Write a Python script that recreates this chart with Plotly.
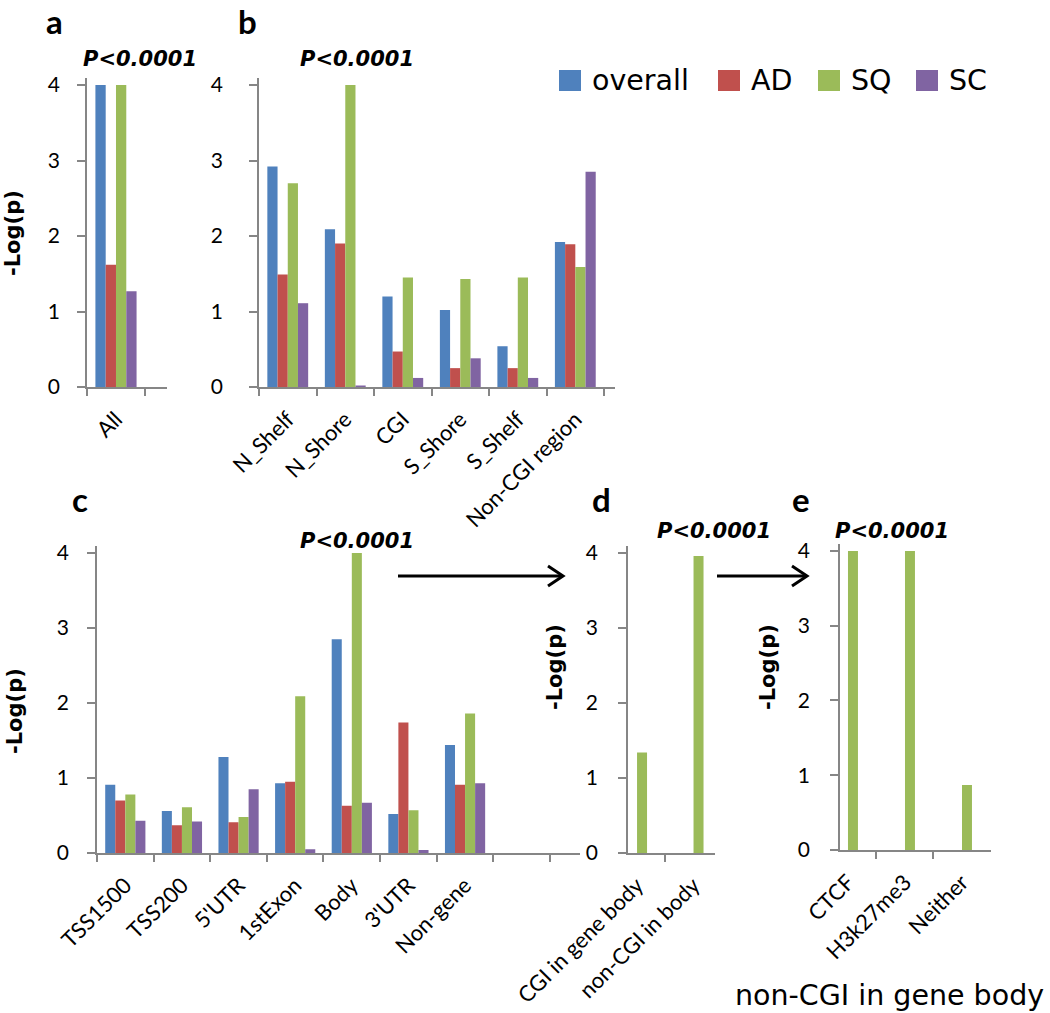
import plotly.graph_objects as go

W, H = 1050, 1013

# ---------------- data ----------------
series = ["overall", "AD", "SQ", "SC"]
colors = ["#4F81BD", "#C0504D", "#9BBB59", "#8064A2"]

a_cats = ["All"]
a_overall = [4.00]
a_ad = [1.62]
a_sq = [4.00]
a_sc = [1.27]

b_cats = ["N_Shelf", "N_Shore", "CGI", "S_Shore", "S_Shelf", "Non-CGI region"]
b_overall = [2.92, 2.09, 1.20, 1.02, 0.54, 1.92]
b_ad = [1.49, 1.90, 0.47, 0.25, 0.25, 1.89]
b_sq = [2.70, 4.00, 1.45, 1.43, 1.45, 1.59]
b_sc = [1.11, 0.01, 0.12, 0.38, 0.12, 2.85]

c_cats = ["TSS1500", "TSS200", "5'UTR", "1stExon", "Body", "3'UTR", "Non-gene", " "]
c_overall = [0.91, 0.56, 1.28, 0.93, 2.85, 0.52, 1.44, None]
c_ad = [0.70, 0.37, 0.41, 0.95, 0.63, 1.74, 0.91, None]
c_sq = [0.78, 0.61, 0.48, 2.09, 4.00, 0.57, 1.86, None]
c_sc = [0.43, 0.42, 0.85, 0.05, 0.67, 0.04, 0.93, None]

d_cats = ["CGI in gene body", "non-CGI in body"]
d_sq = [1.34, 3.96]

e_cats = ["CTCF", "H3k27me3", "Neither"]
e_sq = [4.00, 4.00, 0.87]

y_ticks = [0, 1, 2, 3, 4]
p_label = "P&lt;0.0001"
y_title = "-Log(p)"
bottom_label = "non-CGI in gene body"

# ---------------- helpers ----------------
FONT = "Lato"
WIDE = "DejaVu Sans"
AX = "#868686"


def fx(px):
    return px / W


def fy(py):
    return 1 - py / H


fig = go.Figure()

panels = {
    "a": ("", a_cats, [a_overall, a_ad, a_sq, a_sc]),
    "b": ("2", b_cats, [b_overall, b_ad, b_sq, b_sc]),
    "c": ("3", c_cats, [c_overall, c_ad, c_sq, c_sc]),
}

for name, (suf, cats, vals) in panels.items():
    for s, col, v in zip(series, colors, vals):
        fig.add_trace(go.Bar(
            x=cats, y=v, name=s, marker=dict(color=col, line=dict(width=0)),
            xaxis="x" + suf, yaxis="y" + suf, showlegend=False, offsetgroup=s,
            hoverinfo="x+y+name"))

# d and e: only SQ series, 3rd position in a 4-series group
fig.add_trace(go.Bar(x=d_cats, y=d_sq, name="SQ", marker=dict(color=colors[2], line=dict(width=0)),
                     xaxis="x4", yaxis="y4", showlegend=False, offset=0, width=0.177))
fig.add_trace(go.Bar(x=e_cats, y=e_sq, name="SQ", marker=dict(color=colors[2], line=dict(width=0)),
                     xaxis="x5", yaxis="y5", showlegend=False, offset=0, width=0.175))

# axis geometry (pixels)
geo = {
    "": dict(xd=(87, 167), yd=(77.5, 387), xr=[-0.5, 0.88], ystand=13),
    "2": dict(xd=(259, 615), yd=(77.5, 387), xr=[-0.5, 5.69], ystand=22),
    "3": dict(xd=(97, 580), yd=(545.5, 853), xr=[-0.5, 8.03], ystand=14),
    "4": dict(xd=(628, 715), yd=(545.5, 853), xr=[-0.16, 1.38], ystand=16),
    "5": dict(xd=(840, 990.5), yd=(543.5, 850), xr=[-0.14, 2.5], ystand=16),
}

layout_axes = {}
for suf, g in geo.items():
    xk = "xaxis" + suf
    yk = "yaxis" + suf
    layout_axes[xk] = dict(
        domain=[fx(g["xd"][0]), fx(g["xd"][1])], range=g["xr"], type="category",
        anchor="y" + suf, showline=True, linecolor=AX, linewidth=1.6, automargin=False,
        ticks="outside", tickson="boundaries", ticklen=7, tickwidth=1.6, tickcolor=AX,
        tickangle=-45, tickfont=dict(family=FONT, size=22, color="black"),
        ticklabelstandoff=9,
        showgrid=False, zeroline=False, fixedrange=True)
    layout_axes[yk] = dict(
        domain=[fy(g["yd"][1]), fy(g["yd"][0])], range=[0, 4.1], anchor="x" + suf,
        tickvals=y_ticks, showline=True, linecolor=AX, linewidth=1.6, automargin=False,
        ticks="outside", ticklen=8, tickwidth=1.6, tickcolor=AX,
        tickfont=dict(family=FONT, size=21, color="black"), ticklabelstandoff=g["ystand"],
        showgrid=False, zeroline=False, fixedrange=True)

annotations = []


def txt(text, x, y, size, bold=False, italic=False, angle=0, xanchor="center", family=FONT):
    t = text
    if italic:
        t = "<i>" + t + "</i>"
    if bold:
        t = "<b>" + t + "</b>"
    annotations.append(dict(text=t, x=fx(x), y=fy(y), xref="paper", yref="paper",
                            xanchor=xanchor, yanchor="middle", showarrow=False,
                            textangle=angle, font=dict(family=family, size=size, color="black")))


# panel letters
for lt, x, y in [("a", 54, 21), ("b", 247, 21), ("c", 79.5, 499), ("d", 601, 499), ("e", 801, 499)]:
    txt(lt, x, y, 33, bold=True)

# P values
for x, y in [(140, 59), (356.5, 59), (356.5, 541), (713.5, 531), (891.5, 531)]:
    txt(p_label, x, y, 21, bold=True, italic=True, family=WIDE)

# y titles
for x, y in [(13, 233), (15, 711), (555, 667), (768, 667)]:
    txt(y_title, x, y, 21, bold=True, angle=-90, family=WIDE)

# bottom label
txt(bottom_label, 889, 995, 28.5, family=WIDE)

# legend (manual, large squares)
shapes = []
leg_sq_x = [559, 718, 818, 916]
for s, col, x0 in zip(series, colors, leg_sq_x):
    shapes.append(dict(type="rect", xref="paper", yref="paper", x0=fx(x0), x1=fx(x0 + 22),
                       y0=fy(91), y1=fy(70), fillcolor=col, line=dict(width=0)))
    txt(s, x0 + 31, 80.5, 28.5, xanchor="left", family=WIDE)

# small axis-line stubs left of the d and e y axes (as in the original)
for x0, x1, y in [(620, 628, 853), (832, 840, 850)]:
    shapes.append(dict(type="line", xref="paper", yref="paper", x0=fx(x0), x1=fx(x1),
                       y0=fy(y), y1=fy(y), line=dict(color=AX, width=1.6)))

# arrows
for x0, x1 in [(398, 563), (717, 807)]:
    y = 576
    shapes.append(dict(type="line", xref="paper", yref="paper", x0=fx(x0), x1=fx(x1 - 1),
                       y0=fy(y), y1=fy(y), line=dict(color="black", width=3)))
    shapes.append(dict(type="path", xref="paper", yref="paper",
                       path=f"M {fx(x1-15)},{fy(y-10)} L {fx(x1)},{fy(y)} L {fx(x1-15)},{fy(y+10)}",
                       line=dict(color="black", width=3)))

fig.update_layout(
    width=W, height=H, margin=dict(l=0, r=0, t=0, b=0, autoexpand=False),
    paper_bgcolor="white", plot_bgcolor="white",
    barmode="group", bargap=0.29, bargroupgap=0,
    showlegend=False, annotations=annotations, shapes=shapes,
    font=dict(family=FONT), **layout_axes)

fig.write_html("out.html", config={"displayModeBar": False},
               post_script="document.body.style.margin='0';")
